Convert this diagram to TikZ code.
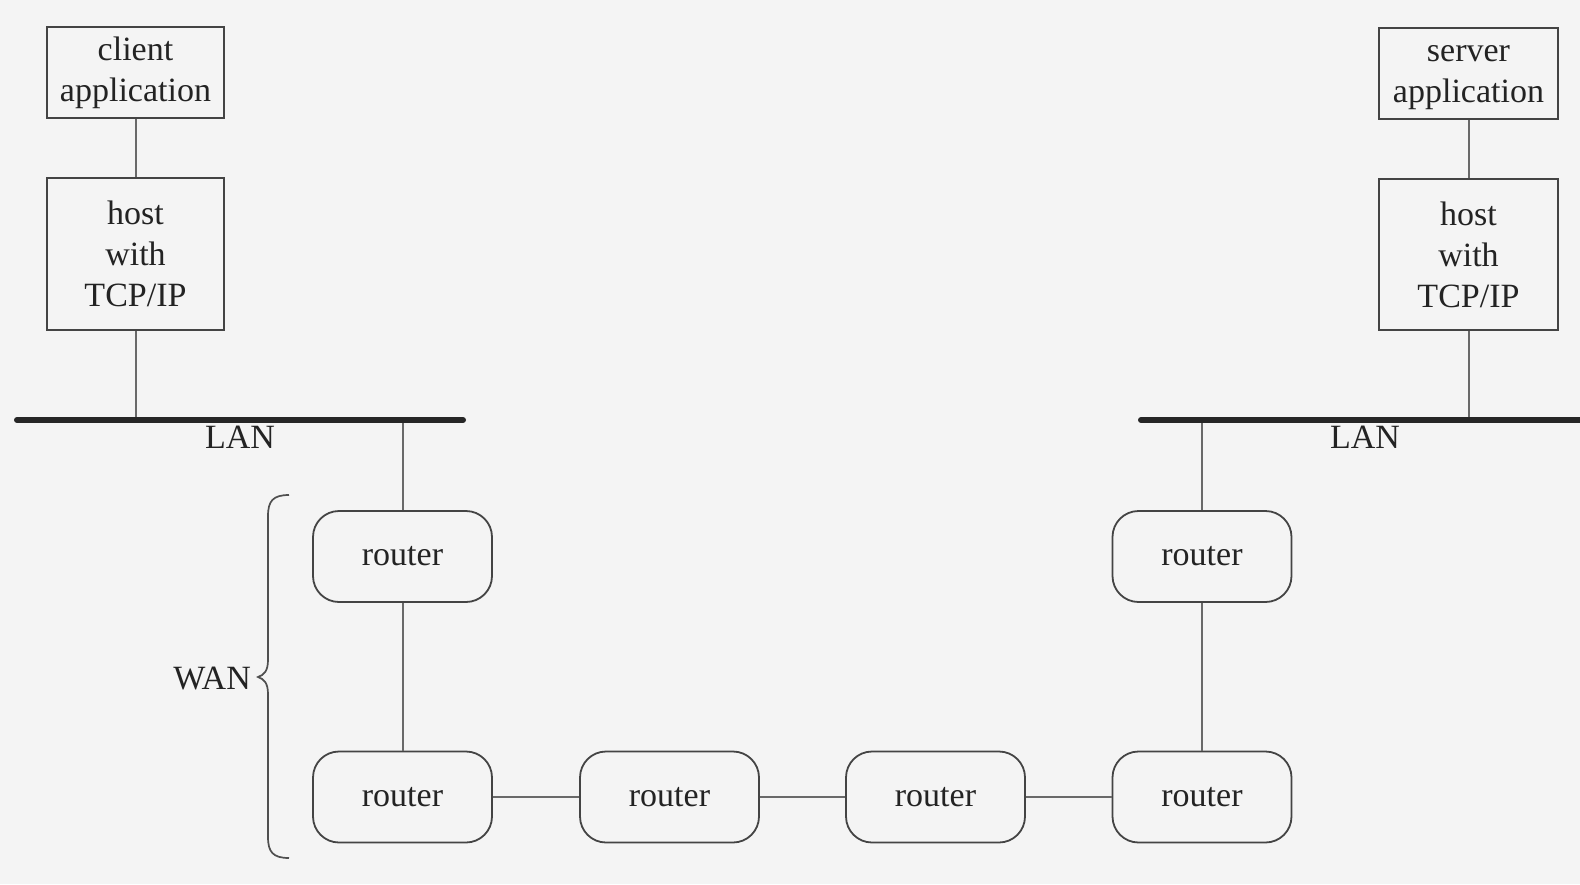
\documentclass[tikz,border=0pt]{standalone}
\usepackage{fontspec}
\setmainfont{Liberation Serif}
\definecolor{paper}{RGB}{244,244,244}
\definecolor{ink}{RGB}{35,35,35}
\definecolor{wire}{RGB}{105,105,105}
\begin{document}
\begin{tikzpicture}[x=1pt,y=-1pt,
  every node/.style={font=\fontsize{34}{41}\selectfont, text=ink},
  hostbox/.style={draw=ink!85, line width=1.8pt, align=center, inner sep=0pt},
  routerbox/.style={draw=ink!85, line width=1.8pt, rounded corners=26pt,
    minimum width=179pt, minimum height=91pt, inner sep=0pt},
  wire/.style={draw=wire, line width=2pt},
  lanbar/.style={draw=black!85, line width=6pt, line cap=round},
  lbl/.style={inner sep=0pt}]
% paper
\fill[paper] (0,0) rectangle (1580,884);
\useasboundingbox (0,0) rectangle (1580,884);

% end systems
\node[hostbox, minimum width=177pt, minimum height=91pt] (capp) at (135.5,72.5) {client\\application};
\node[hostbox, minimum width=177pt, minimum height=152pt] (chost) at (135.5,254) {host\\with\\TCP/IP};
\node[hostbox, minimum width=179pt, minimum height=91pt] (sapp) at (1468.5,73.5) {\vphantom{l}server\\application};
\node[hostbox, minimum width=179pt, minimum height=151pt] (shost) at (1468.5,254.5) {host\\with\\TCP/IP};

% the two LANs
\coordinate (lanLa) at (17,420);
\coordinate (lanLb) at (463,420);
\coordinate (lanRa) at (1141,420);
\coordinate (lanRb) at (1582,420);
\node[lbl] (lanLtext) at (240,437) {LAN};
\node[lbl] (lanRtext) at (1365,437) {LAN};

% routers
\node[routerbox] (r1) at (402.5,556.5) {router};
\node[routerbox] (r2) at (402.5,797) {router};
\node[routerbox] (r3) at (669.5,797) {router};
\node[routerbox] (r4) at (935.5,797) {router};
\node[routerbox] (r5) at (1202,797) {router};
\node[routerbox] (r6) at (1202,556.5) {router};

% links
\draw[wire] (capp.south) -- (chost.north);
\draw[wire] (sapp.south) -- (shost.north);
\draw[wire] (chost.south) -- (chost.south |- lanLa);
\draw[wire] (shost.south) -- (shost.south |- lanRa);
\draw[wire] (r1.north |- lanLa) -- (r1.north);
\draw[wire] (r6.north |- lanRa) -- (r6.north);
\draw[wire] (r1) -- (r2);
\draw[wire] (r6) -- (r5);
\draw[wire] (r2) -- (r3);
\draw[wire] (r3) -- (r4);
\draw[wire] (r4) -- (r5);

\draw[lanbar] (lanLa) -- (lanLb);
\draw[lanbar] (lanRa) -- (lanRb);

% WAN brace
\coordinate (bt) at (289,495);
\coordinate (bb) at (289,858);
\coordinate (btip) at (258,677);
\draw[draw=ink!80, line width=1.7pt]
  (bt) .. controls (273,495) and (268,501) .. (268,516)
  -- (268,660) .. controls (268,671) and (264,675) .. (btip)
  .. controls (264,679) and (268,683) .. (268,694)
  -- (268,837) .. controls (268,852) and (273,858) .. (bb);
\node[lbl, anchor=east] (wan) at ([xshift=-7pt,yshift=-2pt]btip) {WAN};
\end{tikzpicture}
\end{document}
